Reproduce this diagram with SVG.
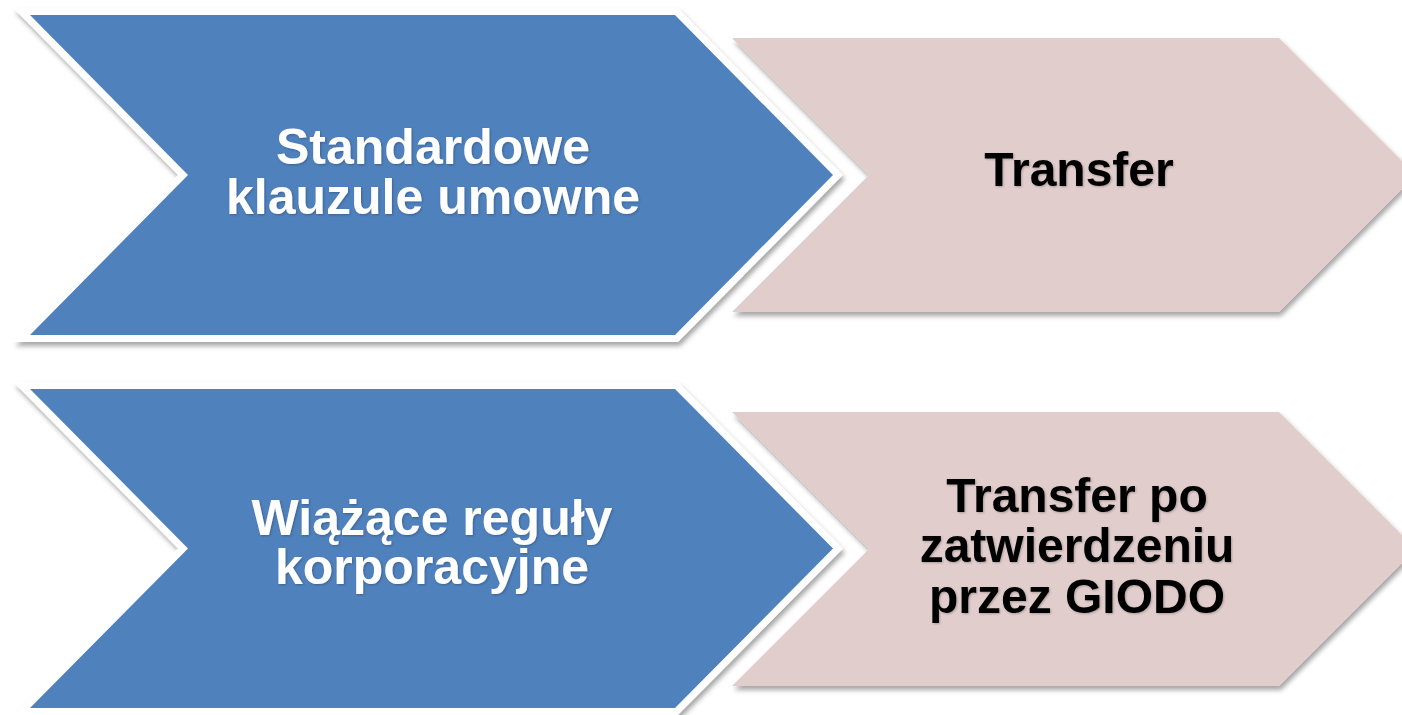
<svg xmlns="http://www.w3.org/2000/svg" width="1402" height="715" viewBox="0 0 1402 715">
  <style>
    .blue { fill: #4F81BD; }
    .frame { fill: #FFFFFF; stroke: #FFFFFF; stroke-width: 14; stroke-linejoin: miter; stroke-miterlimit: 4; filter: url(#shadow); }
    .pink { fill: #E2CDCD; filter: url(#shadow); }
    .lblW { font-family: "Liberation Sans", Arial, sans-serif; font-weight: bold; font-size: 50px; fill: #FFFFFF; text-anchor: middle; filter: url(#tshadow); }
    .lblB { font-family: "Liberation Sans", Arial, sans-serif; font-weight: bold; font-size: 48px; fill: #000000; text-anchor: middle; filter: url(#tshadow); }
  </style>
  <defs>
    <filter id="shadow" x="-10%" y="-10%" width="130%" height="130%">
      <feDropShadow dx="2" dy="4" stdDeviation="2.5" flood-color="#000000" flood-opacity="0.35"/>
    </filter>
    <filter id="tshadow" x="-5%" y="-10%" width="110%" height="130%">
      <feDropShadow dx="1" dy="1" stdDeviation="1" flood-color="#000000" flood-opacity="0.25"/>
    </filter>
  </defs>
  <rect width="1402" height="715" fill="#FFFFFF"/>

  <g id="node-transfer">
    <polygon class="pink" points="732,38 1279,38 1416,175 1279,312 732,312 869,175"/>
    <text class="lblB" x="1079" y="186">Transfer</text>
  </g>
  <g id="node-standardowe">
    <polygon class="frame" points="30,15 675,15 833,175 675,335 30,335 188,175"/>
    <polygon class="blue" points="30,15 675,15 833,175 675,335 30,335 188,175"/>
    <text class="lblW" x="433" y="164">Standardowe</text>
    <text class="lblW" x="433" y="214">klauzule umowne</text>
  </g>

  <g id="node-transfer-giodo">
    <polygon class="pink" points="732,412 1279,412 1416,549 1279,686 732,686 869,549"/>
    <text class="lblB" x="1077" y="512">Transfer po</text>
    <text class="lblB" x="1077" y="562">zatwierdzeniu</text>
    <text class="lblB" x="1077" y="613">przez GIODO</text>
  </g>
  <g id="node-wiazace">
    <polygon class="frame" points="30,389 675,389 833,548.5 675,708 30,708 188,548.5"/>
    <polygon class="blue" points="30,389 675,389 833,548.5 675,708 30,708 188,548.5"/>
    <text class="lblW" x="432" y="535">Wiążące reguły</text>
    <text class="lblW" x="432" y="584">korporacyjne</text>
  </g>

  <g id="connectors"></g>
</svg>
